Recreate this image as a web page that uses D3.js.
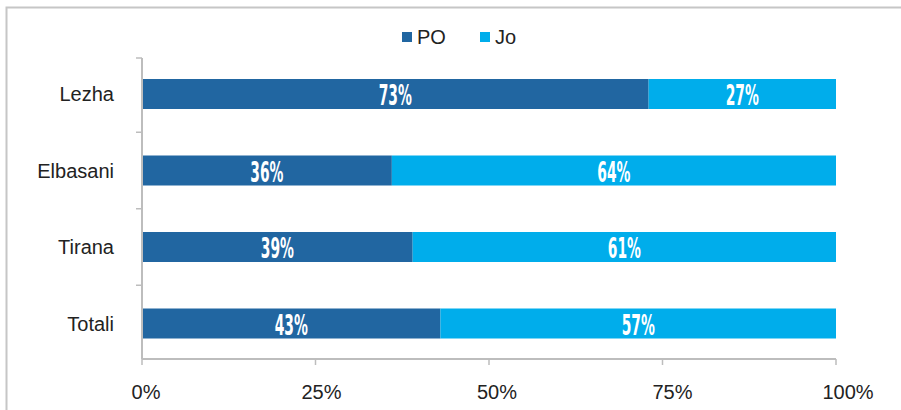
<!DOCTYPE html>
<html><head><meta charset="utf-8">
<script src="https://cdn.jsdelivr.net/npm/d3@7"></script>
<style>
body{margin:0;background:#fff;}
svg{display:block;font-family:"Liberation Sans",Arial,sans-serif;}
</style></head>
<body>
<svg id="c" width="901" height="410"></svg>
<script>
const categories = ["Lezha","Elbasani","Tirana","Totali"];
const seriesNames = ["PO","Jo"];
const poValues = [73,36,39,43];
const joValues = [27,64,61,57];
const xTicks = [0,25,50,75,100];
const colors = ["#2166a1","#00adeb"];

const svg = d3.select("#c");
// frame
svg.append("path").attr("d","M6.5,410 V7.5 H901").attr("fill","none").attr("stroke","#c6c6c6").attr("stroke-width",2);

const x = d3.scaleLinear().domain([0,100]).range([142,836]);
const yb = d3.scaleBand().domain(categories).range([55.75,361.75]);
const cy = c => yb(c)+yb.bandwidth()/2;

const rows = categories.map((c,i)=>({cat:c, vals:[poValues[i], joValues[i]]}));
const stack = rows.map(r=>{let acc=0;return r.vals.map((v,k)=>{const s={cat:r.cat,x0:acc,x1:acc+v,v:v,k:k};acc+=v;return s;});}).flat();

const g = svg.append("g");
g.selectAll("rect").data(stack).join("rect")
  .attr("x",d=>x(d.x0)).attr("width",d=>x(d.x1)-x(d.x0))
  .attr("y",d=>cy(d.cat)-15).attr("height",30)
  .attr("fill",d=>colors[d.k]);

g.selectAll("text.lbl").data(stack).join("text").attr("class","lbl")
  .attr("transform",d=>`translate(${(x(d.x0)+x(d.x1))/2},${cy(d.cat)+1}) scale(0.55,1)`)
  .attr("dy","0.36em").attr("text-anchor","middle")
  .attr("fill","#fff").attr("font-weight","bold")
  .style("font-family","'DejaVu Sans Condensed','DejaVu Sans',sans-serif")
  .attr("font-size",28)
  .text(d=>d.v+"%");

// axes
const axisColor="#bdbdbd";
svg.append("line").attr("x1",142).attr("x2",142).attr("y1",58).attr("y2",359).attr("stroke",axisColor).attr("stroke-width",2);
const bounds = [58].concat(categories.slice(1).map(c=>yb(c)));
svg.selectAll("line.yt").data(bounds).join("line").attr("class","yt")
  .attr("x1",136).attr("x2",142).attr("y1",d=>d).attr("y2",d=>d).attr("stroke",axisColor).attr("stroke-width",1.5);
svg.selectAll("text.yl").data(categories).join("text").attr("class","yl")
  .attr("x",114).attr("y",d=>cy(d)).attr("dy","0.36em")
  .attr("text-anchor","end").attr("font-size",20).attr("fill","#222").text(d=>d);

// x axis
svg.append("line").attr("x1",142).attr("x2",836).attr("y1",359).attr("y2",359).attr("stroke",axisColor).attr("stroke-width",2);
svg.selectAll("line.xt").data(xTicks).join("line").attr("class","xt")
  .attr("x1",d=>x(d)).attr("x2",d=>x(d)).attr("y1",359).attr("y2",365).attr("stroke",axisColor).attr("stroke-width",1.5);
svg.selectAll("text.xl").data(xTicks).join("text").attr("class","xl")
  .attr("x",d=>x(d)+4+d*0.08).attr("y",399).attr("text-anchor","middle")
  .attr("font-size",20).attr("fill","#222").text(d=>d+"%");

// legend
const lg = svg.append("g");
const litems = [{n:seriesNames[0],x:402},{n:seriesNames[1],x:480}];
lg.selectAll("rect").data(litems).join("rect")
  .attr("x",d=>d.x).attr("y",32).attr("width",10).attr("height",10).attr("fill",(d,i)=>colors[i]);
lg.selectAll("text").data(litems).join("text")
  .attr("x",d=>d.x+15).attr("y",44).attr("font-size",20).attr("fill","#222").text(d=>d.n);
</script>
</body></html>
